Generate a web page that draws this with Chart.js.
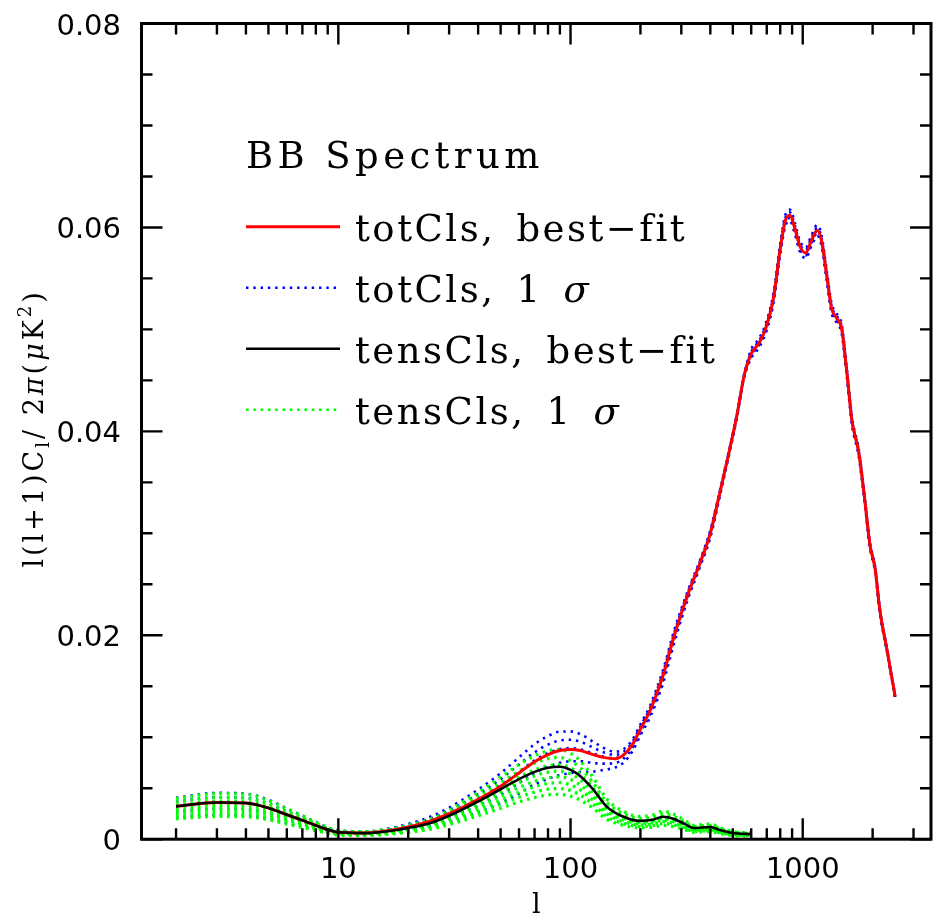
<!DOCTYPE html>
<html>
<head>
<meta charset="utf-8">
<title>BB Spectrum</title>
<script src="https://cdn.jsdelivr.net/npm/chart.js@4.4.1/dist/chart.umd.min.js"></script>
<style>
  html, body { margin: 0; padding: 0; background: #fff; }
  #wrap { width: 933px; height: 918px; }
</style>
</head>
<body>
<div id="wrap"><canvas id="bb" width="933" height="918"></canvas></div>
<script>
// multipoles for the total (lensing + tensor) spectra
const ells = [2, 3, 4, 5, 6, 7, 8, 10, 13, 16, 20, 25, 30, 40, 50, 60, 70, 80, 90, 100,
  110, 125, 140, 155, 170, 185, 200, 220, 250, 280, 320, 360, 400, 440, 480, 520, 560, 600, 650, 700,
  750, 800, 840, 880, 925, 970, 1030, 1090, 1155, 1205, 1270, 1330, 1400, 1470, 1550, 1630, 1740, 1830, 1950, 2050,
  2150, 2300, 2500];

// totCls, best-fit
const totBest = [0.00322, 0.0036, 0.00355, 0.00306, 0.0024, 0.00185, 0.00135, 0.00068, 0.0006, 0.0008,
  0.0012, 0.0018, 0.0025, 0.0039, 0.0052, 0.0065, 0.0076, 0.0083, 0.0087, 0.0088,
  0.0087, 0.0083, 0.0080, 0.0079, 0.0083, 0.0093, 0.0108, 0.0126, 0.0160, 0.0200,
  0.0240, 0.0270, 0.0300, 0.0340, 0.0378, 0.0415, 0.0455, 0.0476, 0.0487, 0.0504,
  0.0532, 0.0579, 0.0606, 0.0612, 0.0599, 0.0582, 0.0575, 0.0587, 0.0597, 0.0587,
  0.0552, 0.0521, 0.0511, 0.0501, 0.0457, 0.0410, 0.0380, 0.0342, 0.0288, 0.0265,
  0.0224, 0.0187, 0.0140];

// totCls, 1 sigma samples
const totSig1 = [0.00213, 0.00238, 0.00234, 0.00202, 0.00158, 0.00122, 0.00089, 0.00045, 0.0004, 0.00055,
  0.00083, 0.00126, 0.00172, 0.00264, 0.00353, 0.00449, 0.00536, 0.00592, 0.00629, 0.00649,
  0.00659, 0.00663, 0.00681, 0.00702, 0.00755, 0.00865, 0.01019, 0.01195, 0.01525, 0.01932,
  0.02352, 0.02663, 0.02959, 0.03369, 0.03756, 0.0413, 0.04533, 0.04717, 0.04826, 0.04995,
  0.05272, 0.05738, 0.06005, 0.06065, 0.05936, 0.05768, 0.05698, 0.05817, 0.05916, 0.05817,
  0.0547, 0.05163, 0.05064, 0.04965, 0.04529, 0.04063, 0.03766, 0.03389, 0.02854, 0.02626,
  0.0222, 0.01853, 0.01387];
const totSig2 = [0.00267, 0.00299, 0.00295, 0.00254, 0.00199, 0.00154, 0.00112, 0.00056, 0.0005, 0.00067,
  0.00101, 0.00153, 0.00211, 0.00327, 0.00437, 0.0055, 0.00648, 0.00711, 0.00749, 0.00764,
  0.00765, 0.00747, 0.00741, 0.00746, 0.00793, 0.00898, 0.01049, 0.01228, 0.01563, 0.01966,
  0.02376, 0.02681, 0.0298, 0.03385, 0.03768, 0.0414, 0.04542, 0.04739, 0.04848, 0.05017,
  0.05296, 0.05764, 0.06033, 0.06092, 0.05963, 0.05794, 0.05724, 0.05844, 0.05943, 0.05844,
  0.05495, 0.05187, 0.05087, 0.04987, 0.04549, 0.04082, 0.03783, 0.03405, 0.02867, 0.02638,
  0.0223, 0.01862, 0.01394];
const totSig3 = [0.00328, 0.00367, 0.00362, 0.00312, 0.00245, 0.00189, 0.00138, 0.00069, 0.00061, 0.00082,
  0.00122, 0.00183, 0.00255, 0.00397, 0.0053, 0.00662, 0.00773, 0.00844, 0.00884, 0.00894,
  0.00882, 0.0084, 0.00807, 0.00795, 0.00834, 0.00934, 0.01084, 0.01264, 0.01604, 0.02004,
  0.02403, 0.02702, 0.03002, 0.03402, 0.03781, 0.04151, 0.04551, 0.0476, 0.0487, 0.0504,
  0.0532, 0.0579, 0.0606, 0.0612, 0.0599, 0.0582, 0.0575, 0.0587, 0.0597, 0.0587,
  0.0552, 0.0521, 0.0511, 0.0501, 0.0457, 0.0410, 0.0380, 0.0342, 0.0288, 0.0265,
  0.0224, 0.0187, 0.0140];
const totSig4 = [0.00367, 0.0041, 0.00405, 0.00349, 0.00274, 0.00211, 0.00154, 0.00078, 0.00068, 0.00091,
  0.00135, 0.00202, 0.00282, 0.00442, 0.00589, 0.00733, 0.00852, 0.00928, 0.00969, 0.00975,
  0.00957, 0.00899, 0.00849, 0.00826, 0.00861, 0.00957, 0.01105, 0.01287, 0.01631, 0.02028,
  0.0242, 0.02715, 0.03017, 0.03413, 0.0379, 0.04158, 0.04557, 0.04781, 0.04892, 0.05063,
  0.05344, 0.05816, 0.06087, 0.06148, 0.06017, 0.05846, 0.05776, 0.05896, 0.05997, 0.05896,
  0.05545, 0.05233, 0.05133, 0.05033, 0.04591, 0.04118, 0.03817, 0.03435, 0.02893, 0.02662,
  0.0225, 0.01878, 0.01406];
const totSig5 = [0.00406, 0.00454, 0.00447, 0.00386, 0.00302, 0.00233, 0.0017, 0.00086, 0.00076, 0.001,
  0.00149, 0.00222, 0.0031, 0.00486, 0.00647, 0.00803, 0.00932, 0.01012, 0.01055, 0.01057,
  0.01031, 0.00957, 0.00891, 0.00858, 0.00887, 0.00979, 0.01127, 0.01309, 0.01657, 0.02052,
  0.02436, 0.02729, 0.03031, 0.03423, 0.03798, 0.04166, 0.04563, 0.04803, 0.04914, 0.05085,
  0.05368, 0.05842, 0.06115, 0.06175, 0.06044, 0.05872, 0.05802, 0.05923, 0.06024, 0.05923,
  0.0557, 0.05257, 0.05156, 0.05055, 0.04611, 0.04137, 0.03834, 0.03451, 0.02906, 0.02674,
  0.0226, 0.01887, 0.01413];

// multipoles for the tensor spectra
const tensElls = [2, 3, 4, 5, 6, 7, 8, 10, 13, 16, 20, 25, 30, 40, 50, 60, 70, 80, 90, 100,
  110, 125, 143, 169, 199, 225, 250, 277, 310, 340, 400, 440, 500, 600];

// tensCls, best-fit
const tensBest = [0.00322, 0.0036, 0.00355, 0.00306, 0.0024, 0.00185, 0.00135, 0.00068, 0.0006, 0.00075,
  0.0011, 0.0016, 0.0023, 0.0037, 0.0049, 0.0059, 0.0066, 0.0070, 0.0071, 0.0068,
  0.0062, 0.0049, 0.0032, 0.0022, 0.0018, 0.0019, 0.0022, 0.0020, 0.0015, 0.0011,
  0.0012, 0.0009, 0.0006, 0.0005];

// tensCls, 1 sigma samples
const tensSig1 = [0.00200, 0.00223, 0.00220, 0.00190, 0.00149, 0.00115, 0.00084, 0.00042, 0.00037, 0.00047,
  0.00068, 0.00099, 0.00143, 0.00229, 0.00304, 0.00366, 0.00409, 0.00434, 0.00440, 0.00422,
  0.00384, 0.00304, 0.00198, 0.00136, 0.00112, 0.00118, 0.00136, 0.00124, 0.00093, 0.00068,
  0.00074, 0.00056, 0.00037, 0.00031];
const tensSig2 = [0.00225, 0.00252, 0.00249, 0.00214, 0.00168, 0.00130, 0.00095, 0.00048, 0.00042, 0.00053,
  0.00077, 0.00112, 0.00161, 0.00259, 0.00343, 0.00413, 0.00462, 0.00490, 0.00497, 0.00476,
  0.00434, 0.00343, 0.00224, 0.00154, 0.00126, 0.00133, 0.00154, 0.00140, 0.00105, 0.00077,
  0.00084, 0.00063, 0.00042, 0.00035];
const tensSig3 = [0.00251, 0.00281, 0.00277, 0.00239, 0.00187, 0.00144, 0.00105, 0.00053, 0.00047, 0.00059,
  0.00086, 0.00125, 0.00179, 0.00289, 0.00382, 0.00460, 0.00515, 0.00546, 0.00554, 0.00530,
  0.00484, 0.00382, 0.00250, 0.00172, 0.00140, 0.00148, 0.00172, 0.00156, 0.00117, 0.00086,
  0.00094, 0.00070, 0.00047, 0.00039];
const tensSig4 = [0.00277, 0.00310, 0.00305, 0.00263, 0.00206, 0.00159, 0.00116, 0.00058, 0.00052, 0.00065,
  0.00095, 0.00138, 0.00198, 0.00318, 0.00421, 0.00507, 0.00568, 0.00602, 0.00611, 0.00585,
  0.00533, 0.00421, 0.00275, 0.00189, 0.00155, 0.00163, 0.00189, 0.00172, 0.00129, 0.00095,
  0.00103, 0.00077, 0.00052, 0.00043];
const tensSig5 = [0.00303, 0.00338, 0.00334, 0.00288, 0.00226, 0.00174, 0.00127, 0.00064, 0.00056, 0.00071,
  0.00103, 0.00150, 0.00216, 0.00348, 0.00461, 0.00555, 0.00620, 0.00658, 0.00667, 0.00639,
  0.00583, 0.00461, 0.00301, 0.00207, 0.00169, 0.00179, 0.00207, 0.00188, 0.00141, 0.00103,
  0.00113, 0.00085, 0.00056, 0.00047];
const tensSig6 = [0.00332, 0.00371, 0.00366, 0.00315, 0.00247, 0.00191, 0.00139, 0.00070, 0.00062, 0.00077,
  0.00113, 0.00165, 0.00237, 0.00381, 0.00505, 0.00608, 0.00680, 0.00721, 0.00731, 0.00700,
  0.00639, 0.00505, 0.00330, 0.00227, 0.00185, 0.00196, 0.00227, 0.00206, 0.00155, 0.00113,
  0.00124, 0.00093, 0.00062, 0.00052];
const tensSig7 = [0.00364, 0.00407, 0.00401, 0.00346, 0.00271, 0.00209, 0.00153, 0.00077, 0.00068, 0.00085,
  0.00124, 0.00181, 0.00260, 0.00418, 0.00554, 0.00667, 0.00746, 0.00791, 0.00802, 0.00768,
  0.00701, 0.00554, 0.00362, 0.00249, 0.00203, 0.00215, 0.00249, 0.00226, 0.00170, 0.00124,
  0.00136, 0.00102, 0.00068, 0.00057];
const tensSig8 = [0.00399, 0.00446, 0.00440, 0.00379, 0.00298, 0.00229, 0.00167, 0.00084, 0.00074, 0.00093,
  0.00136, 0.00198, 0.00285, 0.00459, 0.00608, 0.00732, 0.00818, 0.00868, 0.00880, 0.00843,
  0.00769, 0.00608, 0.00397, 0.00273, 0.00223, 0.00236, 0.00273, 0.00248, 0.00186, 0.00136,
  0.00149, 0.00112, 0.00074, 0.00062];

// axis ticks
const xMajorTicks = [10, 100, 1000];
const xTickLabels = ['10', '100', '1000'];
const xMinorTicks = [2, 3, 4, 5, 6, 7, 8, 9, 20, 30, 40, 50, 60, 70, 80, 90,
  200, 300, 400, 500, 600, 700, 800, 900, 2000, 3000];
const yMajorTicks = [0, 0.02, 0.04, 0.06, 0.08];
const yTickLabels = ['0', '0.02', '0.04', '0.06', '0.08'];
const yMinorTicks = [0.005, 0.01, 0.015, 0.025, 0.03, 0.035, 0.045, 0.05, 0.055, 0.065, 0.07, 0.075];

// legend texts (U+2002 = wide gap like the original)
const legendTitle = 'BB Spectrum';
const legendLabels = ['totCls,\u2002best\u2212fit', 'totCls,\u20021\u2002\u03c3',
  'tensCls,\u2002best\u2212fit', 'tensCls,\u20021\u2002\u03c3'];

const RED = '#ff0000';
const BLUE = '#0000ff';
const BLACK = '#000000';
const GREEN = '#00ff00';
const BLUE_DOTS = [2.4, 4.9];
const GREEN_DOTS = [2.6, 4.7];

const SANS = '"DejaVu Sans", "Liberation Sans", sans-serif';
const SERIF = '"DejaVu Serif", "Liberation Serif", serif';

function toPoints(ls, vs) {
  return ls.map((l, i) => ({ x: l, y: vs[i] }));
}

function lineSet(ls, vs, color, width, dash, order) {
  return {
    data: toPoints(ls, vs),
    borderColor: color,
    borderWidth: width,
    borderDash: dash,
    borderCapStyle: 'butt',
    pointRadius: 0,
    fill: false,
    cubicInterpolationMode: 'monotone',
    order
  };
}

const datasets = [];
[totSig1, totSig2, totSig3, totSig4, totSig5].forEach(v => datasets.push(lineSet(ells, v, BLUE, 2.6, BLUE_DOTS, 3)));
[tensSig1, tensSig2, tensSig3, tensSig4, tensSig5, tensSig6, tensSig7, tensSig8]
  .forEach(v => datasets.push(lineSet(tensElls, v, GREEN, 3.3, GREEN_DOTS, 2)));
datasets.push(lineSet(ells, totBest, RED, 3, [], 1));
datasets.push(lineSet(tensElls, tensBest, BLACK, 2.6, [], 0));

// legend line styles, same order as legendLabels
const legendStyles = [
  { color: RED, width: 3, dash: [] },
  { color: BLUE, width: 2.4, dash: BLUE_DOTS },
  { color: BLACK, width: 2.6, dash: [] },
  { color: GREEN, width: 2.4, dash: GREEN_DOTS }
];

/**
 * 画一串不同字体的文字（上下标、斜体）
 */
function drawRuns(ctx, runs, x, y, center) {
  let total = 0;
  const widths = runs.map(r => {
    ctx.font = r.font;
    const w = ctx.measureText(r.text).width;
    total += w;
    return w;
  });
  let cx = center ? x - total / 2 : x;
  runs.forEach((r, i) => {
    ctx.font = r.font;
    ctx.fillText(r.text, cx, y + (r.dy || 0));
    cx += widths[i];
  });
}

const framePlugin = {
  id: 'frame',
  afterDatasetsDraw(chart) {
    const { ctx, chartArea: a, scales: { x, y } } = chart;
    ctx.save();
    ctx.strokeStyle = '#000';
    ctx.fillStyle = '#000';

    // inward ticks on all four sides
    ctx.lineWidth = 2.4;
    ctx.beginPath();
    const xt = (v, len) => {
      const px = x.getPixelForValue(v);
      ctx.moveTo(px, a.bottom); ctx.lineTo(px, a.bottom - len);
      ctx.moveTo(px, a.top); ctx.lineTo(px, a.top + len);
    };
    const yt = (v, len) => {
      const py = y.getPixelForValue(v);
      ctx.moveTo(a.left, py); ctx.lineTo(a.left + len, py);
      ctx.moveTo(a.right, py); ctx.lineTo(a.right - len, py);
    };
    xMinorTicks.forEach(v => xt(v, 11));
    xMajorTicks.forEach(v => xt(v, 21));
    yMinorTicks.forEach(v => yt(v, 11));
    yMajorTicks.forEach(v => yt(v, 21));
    ctx.stroke();

    ctx.lineWidth = 3;
    ctx.strokeRect(a.left, a.top, a.right - a.left, a.bottom - a.top);

    // tick labels
    ctx.font = '29px ' + SANS;
    ctx.textBaseline = 'alphabetic';
    ctx.textAlign = 'right';
    yMajorTicks.forEach((v, i) => {
      ctx.fillText(yTickLabels[i], a.left - 20.5, y.getPixelForValue(v) + 11);
    });
    ctx.textAlign = 'center';
    xMajorTicks.forEach((v, i) => {
      ctx.fillText(xTickLabels[i], x.getPixelForValue(v), a.bottom + 39);
    });

    // x title
    ctx.font = '27px ' + SERIF;
    ctx.fillText('l', (a.left + a.right) / 2, 913);

    // y title, rotated
    ctx.save();
    ctx.translate(43, (a.top + a.bottom) / 2 - 3);
    ctx.rotate(-Math.PI / 2);
    ctx.textAlign = 'left';
    ctx.letterSpacing = '3px';
    const f = '27px ' + SERIF;
    const fi = 'italic 27px ' + SERIF;
    const fs = '18px ' + SERIF;
    drawRuns(ctx, [
      { text: 'l(l+1)C', font: f },
      { text: 'l', font: fs, dy: 6 },
      { text: '/ 2', font: f },
      { text: '\u03c0', font: fi },
      { text: '(', font: f },
      { text: '\u03bc', font: fi },
      { text: 'K', font: f },
      { text: '2', font: fs, dy: -12 },
      { text: ')', font: f }
    ], 0, 0, true);
    ctx.restore();

    // legend
    ctx.textAlign = 'left';
    ctx.letterSpacing = '4.4px';
    ctx.font = '37px ' + SERIF;
    ctx.fillText(legendTitle, 246, 168);
    ctx.letterSpacing = '2.5px';
    legendLabels.forEach((label, i) => {
      const base = 240.7 + i * 61;
      const st = legendStyles[i];
      ctx.save();
      ctx.strokeStyle = st.color;
      ctx.lineWidth = st.width;
      ctx.setLineDash(st.dash);
      ctx.lineCap = 'butt';
      ctx.beginPath();
      ctx.moveTo(246, base - 14);
      ctx.lineTo(st.dash.length ? 337 : 340, base - 14);
      ctx.stroke();
      ctx.restore();
      const parts = label.split('\u03c3');
      const runs = [{ text: parts[0], font: '37px ' + SERIF }];
      if (parts.length > 1) {
        runs.push({ text: '\u03c3', font: 'italic 37px ' + SERIF });
      }
      drawRuns(ctx, runs, 355, base, false);
    });
    ctx.restore();
  }
};

new Chart(document.getElementById('bb'), {
  type: 'line',
  data: { datasets },
  options: {
    responsive: false,
    devicePixelRatio: 1,
    animation: false,
    events: [],
    layout: { padding: { left: 141.5, right: 2, top: 23.5, bottom: 78.8 } },
    plugins: {
      legend: { display: false },
      tooltip: { enabled: false }
    },
    scales: {
      x: { type: 'logarithmic', min: 1.42, max: 3568, display: false },
      y: { type: 'linear', min: 0, max: 0.08, display: false }
    }
  },
  plugins: [framePlugin]
});
</script>
</body>
</html>
